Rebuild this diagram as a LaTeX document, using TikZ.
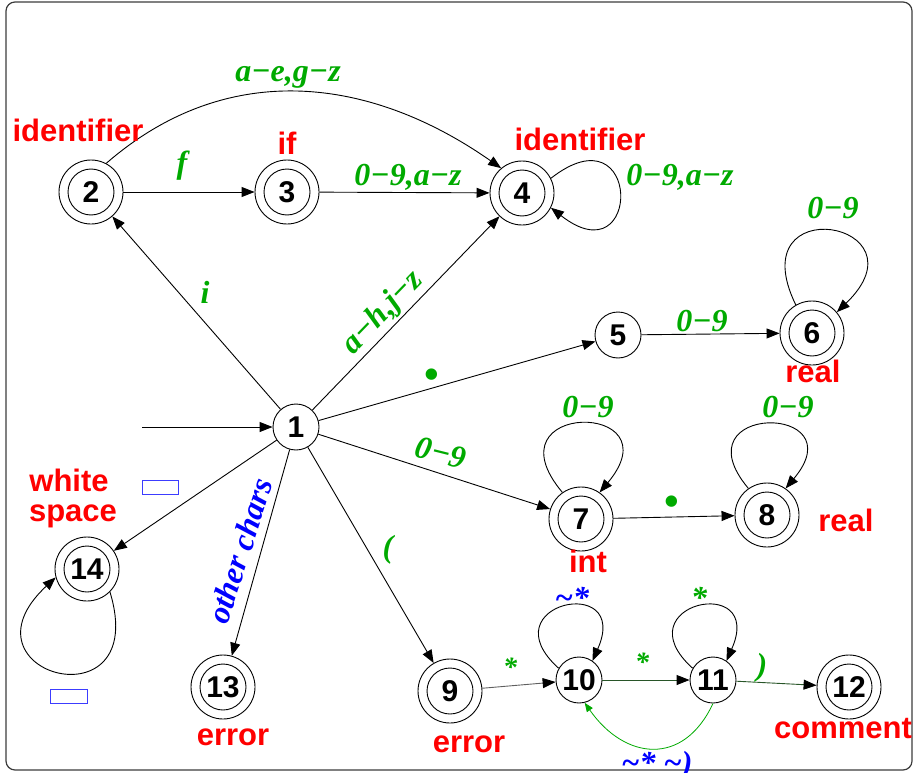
\documentclass[tikz,border=0pt]{standalone}
\usepackage{fontspec}
\setmainfont{Liberation Serif}
\newfontfamily\lblsans{Liberation Sans}
\usetikzlibrary{arrows.meta}

\definecolor{lblgreen}{RGB}{0,170,0}
\definecolor{lblblue}{RGB}{0,0,255}
\definecolor{lblred}{RGB}{255,0,0}
\definecolor{trgreen}{RGB}{40,85,40}
\definecolor{trgray}{RGB}{95,95,95}
\definecolor{framegray}{RGB}{60,60,60}
\definecolor{boxblue}{RGB}{60,60,255}

\tikzset{
  state/.style={circle, draw, line width=0.9pt, minimum size=46pt, inner sep=0pt,
    font=\lblsans\bfseries\fontsize{30}{30}\selectfont},
  accept/.style={state, minimum size=64pt,
    path picture={\draw[line width=0.9pt] (path picture bounding box.center) circle (23pt);}},
  edge/.style={line width=0.9pt, -{Triangle[length=13pt,width=10pt,color=black]}},
  backedge/.style={line width=0.8pt, lblgreen, -{Triangle[length=9pt,width=7pt]}},
  sym/.style={text=lblgreen, font=\bfseries\itshape\fontsize{32}{32}\selectfont,
    anchor=base, inner sep=0pt},
  smallsym/.style={sym, font=\bfseries\itshape\fontsize{28}{28}\selectfont},
  dotsym/.style={sym, anchor=center, font=\bfseries\fontsize{42}{42}\selectfont},
  bluesym/.style={sym, text=lblblue},
  tok/.style={text=lblred, font=\lblsans\bfseries\fontsize{31}{31}\selectfont,
    anchor=base, inner sep=0pt},
  spacebox/.style={draw=boxblue, line width=1pt},
}

\begin{document}
\begin{tikzpicture}[x=1pt,y=1pt]
\useasboundingbox (0,0) rectangle (915,-773);

% outer frame
\draw[framegray, line width=1.2pt, rounded corners=9pt] (6,-2) rectangle (912,-770);

% states
\node[state]  (n1)  at (296,-427) {1};
\node[accept] (n2)  at (91,-192)  {2};
\node[accept] (n3)  at (287,-192) {3};
\node[accept] (n4)  at (522,-193) {4};
\node[state]  (n5)  at (618,-335) {5};
\node[accept] (n6)  at (812,-333) {6};
\node[accept] (n7)  at (581,-519) {7};
\node[accept] (n8)  at (767,-515) {8};
\node[accept] (n9)  at (450,-691) {9};
\node[state]  (n10) at (579,-680) {10};
\node[state]  (n11) at (713,-680) {11};
\node[accept] (n12) at (849,-687) {12};
\node[accept] (n13) at (223,-687) {13};
\node[accept] (n14) at (87,-569)  {14};

\coordinate (start) at (142,-427);

% transitions
\draw[edge] (start) -- (n1);
\draw[edge] (n1) -- (n2);
\draw[edge] (n2) -- (n3);
\draw[edge] (n3) -- (n4);
\draw[edge] (n2.62) .. controls +(41:160) and +(145:160) .. (n4.130);
\draw[edge] (n4.27) .. controls +(38:116) and +(-38:116) .. (n4.-27);
\draw[edge] (n1) -- (n4);
\draw[edge] (n1) -- (n5);
\draw[edge] (n5) -- (n6);
\draw[edge] (n6.120) .. controls +(116:130) and +(44:130) .. (n6.40);
\draw[edge] (n1) -- (n7);
\draw[edge] (n7.125) .. controls +(130:120) and +(50:120) .. (n7.55);
\draw[edge] (n7) -- (n8);
\draw[edge] (n8.125) .. controls +(130:112) and +(50:112) .. (n8.55);
\draw[edge] (n1) -- (n14);
\draw[edge] (n14.-45) .. controls +(-73:142) and +(-137:142) .. (n14.195);
\draw[edge] (n1) -- (n13);
\draw[edge] (n1) -- (n9);
\draw[edge, trgray] (n9) -- (n10);
\draw[edge] (n10.150) .. controls +(138:97) and +(66:97) .. (n10.55);
\draw[edge, trgreen] (n10) -- (n11);
\draw[edge] (n11.150) .. controls +(138:97) and +(66:97) .. (n11.55);
\draw[edge, trgreen] (n11) -- (n12);
\draw[backedge] (n11.-90) .. controls +(-115:70) and +(-55:70) .. (n10.-76);

% blank-character markers
\draw[spacebox] (142,-480) rectangle (178,-494);
\draw[spacebox] (50,-689) rectangle (87,-703);

% input symbols
\node[sym] (lAEGZ) at (288,-82)  {a−e,g−z};
\node[sym] (lF)    at (182,-173) {f};
\node[sym] (l34)   at (408,-185) {0−9,a−z};
\node[sym] (l44)   at (680,-185) {0−9,a−z};
\node[sym] (l66)   at (833,-218) {0−9};
\node[sym] (lI)    at (205,-303) {i};
\node[sym, anchor=center, rotate=46] (l14) at (383,-313) {a−h,j−z};
\node[dotsym] (l15) at (432,-379) {•};
\node[sym] (l56)   at (702,-331) {0−9};
\node[sym] (l77)   at (588,-417) {0−9};
\node[sym] (l88)   at (788,-417) {0−9};
\node[sym, anchor=center, rotate=-14] (l17) at (441,-453) {0−9};
\node[dotsym] (l78) at (672,-506) {•};
\node[sym] (l19)   at (388,-557) {(};
\node[smallsym] (l910)  at (510,-676) {*};
\node[smallsym] (l1011) at (642,-671) {*};
\node[sym] (l1111) at (699,-608) {*};
\node[sym] (l1112) at (762,-675) {)};
\node[bluesym] (l1010) at (572,-608) {\textasciitilde*};
\node[bluesym] (l1110) at (657,-773) {\textasciitilde*\ \textasciitilde)};
\node[bluesym, anchor=center, rotate=72] (lother) at (240,-551) {other chars};

% token names
\node[tok] (t2)   at (78,-142)  {identifier};
\node[tok] (t3)   at (287,-154) {if};
\node[tok] (t4)   at (580,-150) {identifier};
\node[tok] (t6)   at (813,-382) {real};
\node[tok] (t8)   at (846,-531) {real};
\node[tok] (t7)   at (588,-572) {int};
\node[tok] (t14a) at (69,-491)  {white};
\node[tok] (t14b) at (73,-521)  {space};
\node[tok] (t13)  at (233,-745) {error};
\node[tok] (t9)   at (469,-752) {error};
\node[tok] (t12)  at (843,-738) {comment};
\end{tikzpicture}
\end{document}
